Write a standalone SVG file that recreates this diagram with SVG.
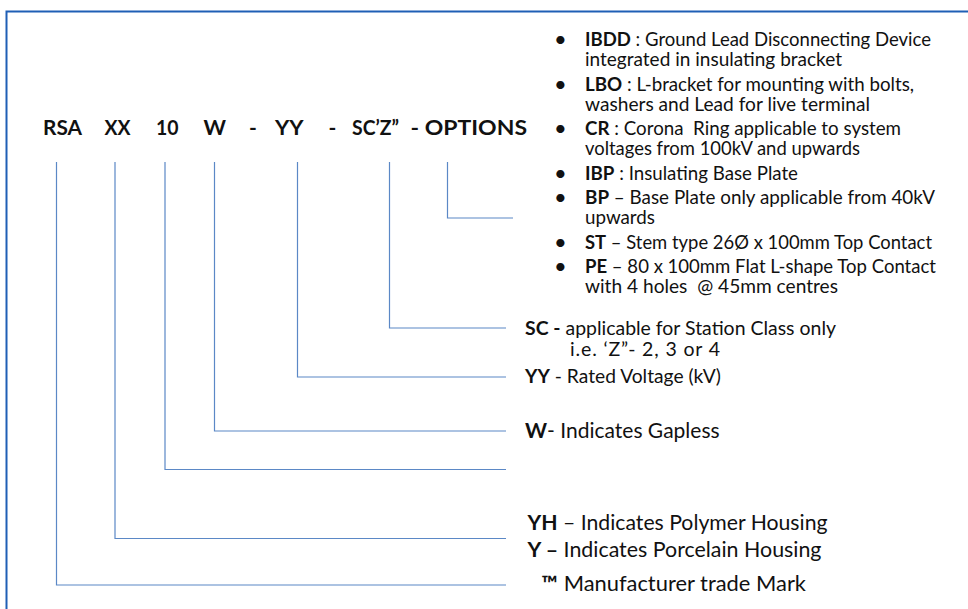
<svg xmlns="http://www.w3.org/2000/svg" width="968" height="609" viewBox="0 0 968 609">
<style>
text{font-family:Lato,"Liberation Sans",sans-serif;fill:#111;white-space:pre}
.t{font-size:21px;font-weight:bold}
.b{font-size:19px}
.dot{font-size:22px}
.s{font-size:19.5px}
.l{font-size:21px}
.bd{font-weight:bold}
.c{fill:none;stroke:#5b88c6;stroke-width:1.2}
.frame{fill:none;stroke:#1f5fb5;stroke-width:2}
</style>
<rect width="968" height="609" fill="#fff"/>
<path class="frame" d="M6.5 609 V11.5 H968"/>
<g id="code">
<g id="tok-rsa"><text class="t" x="43" y="135" textLength="39" lengthAdjust="spacingAndGlyphs">RSA</text></g>
<g id="tok-xx"><text class="t" x="104.5" y="135" textLength="26" lengthAdjust="spacingAndGlyphs">XX</text></g>
<g id="tok-10"><text class="t" x="156" y="135" textLength="22.6" lengthAdjust="spacingAndGlyphs">10</text></g>
<g id="tok-w"><text class="t" x="203.5" y="135" textLength="22.5" lengthAdjust="spacingAndGlyphs">W</text></g>
<g id="tok-d1"><text class="t" x="249" y="135">-</text></g>
<g id="tok-yy"><text class="t" x="275" y="135" textLength="28.6" lengthAdjust="spacingAndGlyphs">YY</text></g>
<g id="tok-d2"><text class="t" x="328.5" y="135">-</text></g>
<g id="tok-sc"><text class="t" x="352" y="135" textLength="47" lengthAdjust="spacingAndGlyphs">SC’Z”</text></g>
<g id="tok-options"><text class="t" x="410.5" y="135" textLength="116.5" lengthAdjust="spacingAndGlyphs">- OPTIONS</text></g>
</g>
<g id="connectors">
<path class="c" d="M56.5 162 V585 H506"/>
<path class="c" d="M115 162 V538.5 H506"/>
<path class="c" d="M165 162 V469.5 H506"/>
<path class="c" d="M214.5 162 V431 H506"/>
<path class="c" d="M297.5 162 V377 H506"/>
<path class="c" d="M389.5 162 V328 H506"/>
<path class="c" d="M447.5 162 V218 H513"/>
</g>
<g id="options-list">
<g class="dot">
<text x="554" y="47">•</text>
<text x="554" y="91.5">•</text>
<text x="554" y="136">•</text>
<text x="554" y="180.5">•</text>
<text x="554" y="205">•</text>
<text x="554" y="249.5">•</text>
<text x="554" y="274">•</text>
</g>
<text class="b" x="585" y="46" textLength="346" lengthAdjust="spacingAndGlyphs"><tspan class="bd">IBDD</tspan> : Ground Lead Disconnecting Device</text>
<text class="b" x="585" y="66" textLength="257" lengthAdjust="spacingAndGlyphs">integrated in insulating bracket</text>
<text class="b" x="585" y="90.5" textLength="329" lengthAdjust="spacingAndGlyphs"><tspan class="bd">LBO</tspan> : L-bracket for mounting with bolts,</text>
<text class="b" x="585" y="110.5" textLength="285" lengthAdjust="spacingAndGlyphs">washers and Lead for live terminal</text>
<text class="b" x="585" y="135" textLength="316" lengthAdjust="spacingAndGlyphs"><tspan class="bd">CR</tspan> : Corona  Ring applicable to system</text>
<text class="b" x="585" y="155" textLength="275" lengthAdjust="spacingAndGlyphs">voltages from 100kV and upwards</text>
<text class="b" x="585" y="179.5" textLength="213" lengthAdjust="spacingAndGlyphs"><tspan class="bd">IBP</tspan> : Insulating Base Plate</text>
<text class="b" x="585" y="204" textLength="350" lengthAdjust="spacingAndGlyphs"><tspan class="bd">BP</tspan> – Base Plate only applicable from 40kV</text>
<text class="b" x="585" y="224" textLength="70" lengthAdjust="spacingAndGlyphs">upwards</text>
<text class="b" x="585" y="248.5" textLength="347" lengthAdjust="spacingAndGlyphs"><tspan class="bd">ST</tspan> – Stem type 26Ø x 100mm Top Contact</text>
<text class="b" x="585" y="273" textLength="351" lengthAdjust="spacingAndGlyphs"><tspan class="bd">PE</tspan> – 80 x 100mm Flat L-shape Top Contact</text>
<text class="b" x="585" y="293" textLength="253" lengthAdjust="spacingAndGlyphs">with 4 holes  @ 45mm centres</text>
</g>
<g id="label-sc">
<text class="s" x="525" y="334.5" textLength="311" lengthAdjust="spacingAndGlyphs"><tspan class="bd">SC -</tspan> applicable for Station Class only</text>
<text class="s" x="570" y="356" textLength="150">i.e. ‘Z”- 2, 3 or 4</text>
</g>
<g id="label-yy"><text class="s" x="525" y="383" textLength="196" lengthAdjust="spacingAndGlyphs"><tspan class="bd">YY</tspan> - Rated Voltage (kV)</text></g>
<g id="label-w"><text class="l" x="525" y="437.5"><tspan class="bd">W</tspan>- Indicates Gapless</text></g>
<g id="label-xx">
<text class="l" x="527.5" y="530" textLength="300" lengthAdjust="spacingAndGlyphs"><tspan class="bd">YH</tspan> – Indicates Polymer Housing</text>
<text class="l" x="527.5" y="556.5" textLength="294" lengthAdjust="spacingAndGlyphs"><tspan class="bd">Y –</tspan> Indicates Porcelain Housing</text>
</g>
<g id="label-rsa"><text class="l" x="541.5" y="590.5" textLength="264.5" lengthAdjust="spacingAndGlyphs"><tspan class="bd">™</tspan> Manufacturer trade Mark</text></g>
</svg>
